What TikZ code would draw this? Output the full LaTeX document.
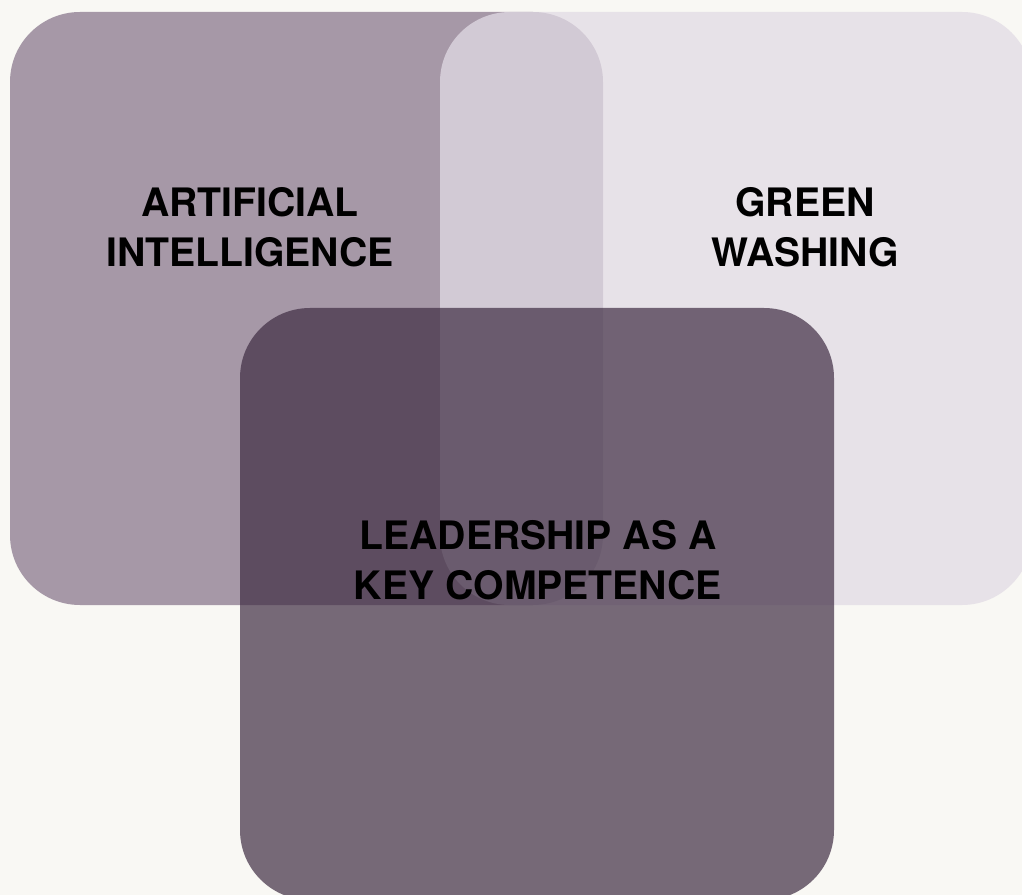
\documentclass[tikz,border=0pt]{standalone}
\usepackage{fontspec}
\setmainfont{TeX Gyre Heros}
\definecolor{paper}{HTML}{F9F8F4}
\definecolor{mauve}{HTML}{A698A7}
\definecolor{lilac}{HTML}{E2DBE5}
\definecolor{plum}{HTML}{3F2D43}
\begin{document}
\begin{tikzpicture}[x=0.02cm, y=-0.02cm,
  box/.style={rounded corners=1.4cm},
  topic/.style={align=center, font=\fontsize{22.3}{28.45}\selectfont\bfseries}]
\fill[paper] (0,0) rectangle (1022,895);
\useasboundingbox (0,0) rectangle (1022,895);
\fill[box, mauve] (10,12) rectangle (603,605);
\fill[box, lilac, opacity=0.75] (440,12) rectangle (1032,605);
\fill[box, plum, opacity=0.7] (240,308) rectangle (834,900);
\node[topic] (ai) at (250,227.5) {ARTIFICIAL\\INTELLIGENCE};
\node[topic] (green) at (805,227.5) {GREEN\\WASHING};
\node[topic] (lead) at (538,560) {LEADERSHIP AS A\\KEY COMPETENCE};
\end{tikzpicture}
\end{document}
